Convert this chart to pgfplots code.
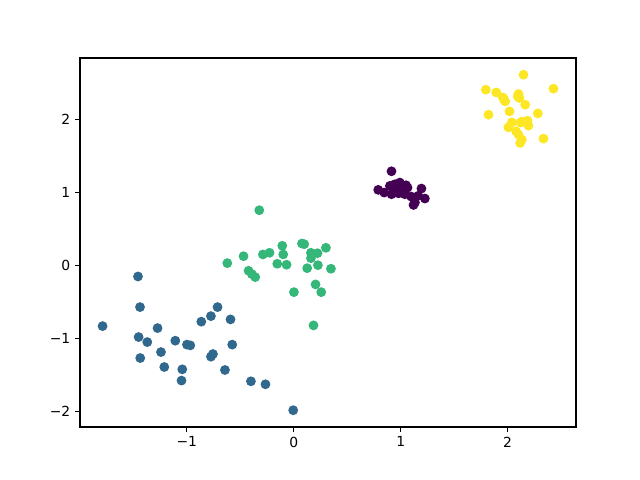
\documentclass[border=0pt]{standalone}
\usepackage{pgfplots}
\pgfplotsset{compat=1.18}
\usepackage{fontspec}
\setmainfont{DejaVu Sans}
\definecolor{c0}{HTML}{440154}
\definecolor{c1}{HTML}{31688E}
\definecolor{c2}{HTML}{35B779}
\definecolor{c3}{HTML}{FDE725}
\begin{document}
\begin{tikzpicture}
\path[use as bounding box] (-57.6pt,-38.16pt) rectangle (357.12pt+46.08pt,265.68pt+41.76pt);
\begin{axis}[
  at={(0,0)}, anchor=south west,
  scale only axis, width=357.12pt, height=265.68pt,
  xmin=-1.998, xmax=2.639, ymin=-2.216, ymax=2.846,
  axis line style={line width=0.8pt},
  xtick={-1,0,1,2}, xticklabels={−1,0,1,2},
  ytick={-2,-1,0,1,2}, yticklabels={−2,−1,0,1,2},
  tick align=outside, major tick length=3.5pt,
  tick style={black, line width=0.8pt},
  xtick pos=bottom, ytick pos=left,
  ticklabel style={font=\fontsize{10}{12}\selectfont},
  every axis plot/.append style={only marks, mark=*, mark size=3pt, mark options={line width=1pt}},
]
\addplot[draw=c0, fill=c0] coordinates {
(0.914,1.292) (0.790,1.037) (0.846,1.000) (0.899,1.092) (0.946,1.114)
(0.992,1.137) (1.023,1.092) (1.064,1.068) (1.008,1.023) (0.961,1.010)
(0.914,0.977) (1.039,0.977) (1.194,1.055) (1.164,0.955) (1.226,0.918)
(1.133,0.863) (1.098,0.945) (0.967,1.068) (0.930,1.055) (1.000,1.050)
(1.040,1.040) (0.980,0.990) (1.120,0.830) (1.050,1.100) (0.950,1.040)
};
\addplot[draw=c1, fill=c1] coordinates {
(-1.456,-0.151) (-1.437,-0.571) (-1.787,-0.832) (-1.273,-0.859) (-1.450,-0.982)
(-1.369,-1.051) (-1.107,-1.032) (-0.998,-1.086) (-0.967,-1.096) (-1.241,-1.188)
(-1.435,-1.270) (-1.210,-1.393) (-1.042,-1.425) (-1.049,-1.579) (-0.864,-0.771)
(-0.774,-0.695) (-0.712,-0.571) (-0.591,-0.740) (-0.575,-1.086) (-0.774,-1.251)
(-0.755,-1.215) (-0.643,-1.434) (-0.400,-1.589) (-0.264,-1.630) (-0.005,-1.986)
};
\addplot[draw=c2, fill=c2] coordinates {
(-0.322,0.758) (0.077,0.301) (0.098,0.292) (-0.107,0.270) (0.301,0.242)
(-0.469,0.127) (-0.288,0.151) (-0.226,0.174) (-0.098,0.151) (0.161,0.174)
(0.222,0.168) (0.161,0.100) (-0.621,0.032) (-0.154,0.023) (-0.067,0.010)
(0.226,0.004) (0.126,-0.037) (0.348,-0.045) (-0.422,-0.073) (-0.391,-0.119)
(-0.360,-0.160) (0.204,-0.260) (0.002,-0.366) (0.257,-0.366) (0.185,-0.822)
};
\addplot[draw=c3, fill=c3] coordinates {
(2.148,2.616) (1.796,2.411) (1.893,2.374) (2.428,2.425) (2.101,2.352)
(2.110,2.297) (1.955,2.305) (1.977,2.251) (2.164,2.205) (2.017,2.114)
(1.821,2.068) (2.282,2.086) (2.039,1.963) (2.007,1.895) (2.133,1.973)
(2.185,1.986) (2.194,1.918) (2.079,1.840) (2.101,1.795) (2.335,1.740)
(2.133,1.726) (2.117,1.681) (1.965,2.280) (2.120,1.960) (2.095,2.320)
};
\end{axis}
\end{tikzpicture}
\end{document}
